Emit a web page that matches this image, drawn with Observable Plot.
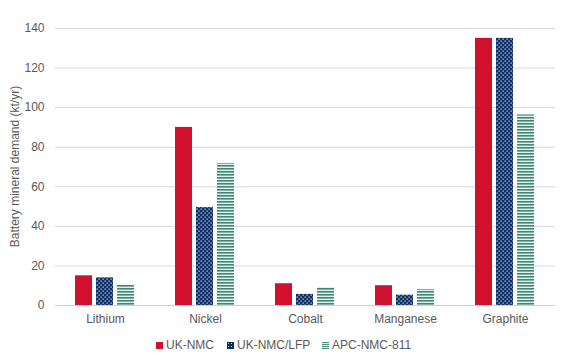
<!DOCTYPE html>
<html>
<head>
<meta charset="utf-8">
<script src="https://cdn.jsdelivr.net/npm/d3@7"></script>
<script src="https://cdn.jsdelivr.net/npm/@observablehq/plot@0.6"></script>
<style>
  html, body { margin: 0; padding: 0; background: #fff; }
  body { width: 573px; height: 362px; overflow: hidden; font-family: "Liberation Sans", Arial, sans-serif; }
  #chart { position: relative; }
  .legend { position: absolute; left: 0; top: 338px; width: 573px; height: 16px; font-size: 12px; color: #595959; }
  .legend .item { position: absolute; top: 0; display: flex; align-items: center; height: 14px; }
  .legend .sw { width: 7px; height: 7px; margin-right: 3px; display: inline-block; }
</style>
</head>
<body>
<div id="chart"></div>
<script>
const categories = ["Lithium", "Nickel", "Cobalt", "Manganese", "Graphite"];
const seriesNames = ["UK-NMC", "UK-NMC/LFP", "APC-NMC-811"];
const ukNmc = [15, 90, 11, 10, 135];
const ukNmcLfp = [14, 49.5, 5.6, 5.2, 135];
const apcNmc811 = [10.3, 71.8, 9.1, 8.1, 96.3];
const yTicks = [0, 20, 40, 60, 80, 100, 120, 140];
const yLabel = "Battery mineral demand (kt/yr)";

const seriesValues = [ukNmc, ukNmcLfp, apcNmc811];
const data = [];
categories.forEach((c, i) => {
  seriesNames.forEach((s, j) => data.push({category: c, series: s, value: seriesValues[j][i]}));
});

const fills = ["#d0102c", "url(#dotsPat)", "url(#stripePat)"];

const plot = Plot.plot({
  width: 573,
  height: 335,
  marginLeft: 55,
  marginRight: 18,
  marginTop: 28,
  marginBottom: 30,
  style: {fontFamily: "'Liberation Sans', Arial, sans-serif", fontSize: "12px", color: "#595959", background: "#fff"},
  fx: {domain: categories, padding: 0, label: null, axis: "bottom", tickSize: 0, tickPadding: 9},
  x: {domain: seriesNames, paddingInner: 0.18, paddingOuter: 0.864, axis: null},
  y: {domain: [0, 140], ticks: yTicks, label: null},
  color: {type: "ordinal", domain: seriesNames, range: fills},
  marks: [
    Plot.gridY(yTicks.filter(d => d > 0), {stroke: "#d9d9d9", strokeOpacity: 1, facetAnchor: null}),
    Plot.axisY({ticks: yTicks, tickSize: 0, tickPadding: 11, label: null, fill: "#595959", fontSize: 12}),
    Plot.barY(data, {fx: "category", x: "series", y: "value", fill: "series"}),
    Plot.ruleY([0], {stroke: "#d0d0d0", facetAnchor: null})
  ]
});

// pattern definitions
const ns = "http://www.w3.org/2000/svg";
const defs = document.createElementNS(ns, "defs");
defs.innerHTML = `
  <pattern id="dotsPat" patternUnits="userSpaceOnUse" width="4" height="4">
    <rect width="4" height="4" fill="#0d2f66"></rect>
    <rect x="0.5" y="0.5" width="1.2" height="1.2" fill="#dfe7f2"></rect>
    <rect x="2.5" y="2.5" width="1.2" height="1.2" fill="#dfe7f2"></rect>
  </pattern>
  <pattern id="stripePat" patternUnits="userSpaceOnUse" width="4" height="3">
    <rect width="4" height="3" fill="#e3f0ec"></rect>
    <rect y="0" width="4" height="1.6" fill="#3f8876"></rect>
  </pattern>`;
plot.insertBefore(defs, plot.firstChild);

// y axis title
const t = document.createElementNS(ns, "text");
t.setAttribute("transform", "translate(16,166.5) rotate(-90)");
t.setAttribute("text-anchor", "middle");
t.setAttribute("dominant-baseline", "middle");
t.setAttribute("fill", "#595959");
t.setAttribute("font-size", "12");
t.textContent = yLabel;
plot.appendChild(t);

const chart = document.getElementById("chart");
chart.appendChild(plot);

// legend
const legend = document.createElement("div");
legend.className = "legend";
const legendX = [156, 227, 322];
const swatchBg = ["#d0102c", "#0b2c62", "#5c9a8a"];
seriesNames.forEach((s, i) => {
  const item = document.createElement("div");
  item.className = "item";
  item.style.left = legendX[i] + "px";
  const sw = document.createElement("span");
  sw.className = "sw";
  sw.style.background = swatchBg[i];
  if (i === 1) sw.style.backgroundImage = "radial-gradient(#c7d3e6 0.6px, transparent 0.8px)", sw.style.backgroundSize = "3px 3px";
  if (i === 2) sw.style.background = "repeating-linear-gradient(#4f8f80 0 1px, #dcebe7 1px 2px)";
  item.appendChild(sw);
  const lab = document.createElement("span");
  lab.textContent = s;
  item.appendChild(lab);
  legend.appendChild(item);
});
chart.appendChild(legend);
</script>
</body>
</html>
